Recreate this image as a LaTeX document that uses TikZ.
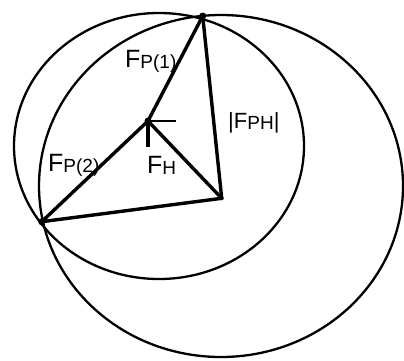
\documentclass[tikz,border=0pt]{standalone}
\usepackage{fontspec}
\setmainfont{Liberation Sans}
\begin{document}
\begin{tikzpicture}[x=1pt,y=-1pt,
  ring/.style={line width=2.3pt},
  bar/.style={line width=3.4pt,line join=round,line cap=round},
  tickmark/.style={line width=2.5pt},
  dot/.style={circle,fill=black,inner sep=0pt,minimum size=7pt},
  lbl/.style={anchor=base west,inner sep=0pt}]
\useasboundingbox (0,0) rectangle (404,360);
% circles
\draw[ring] (159,146) ellipse [x radius=145, y radius=133];
\draw[ring] (221,186) ellipse [x radius=182, y radius=171];
% points
\node[dot] (T) at (202.7,16) {};
\node[dot] (L) at (41.7,221.7) {};
\node[dot] (M) at (148,121) {};
\node[dot,minimum size=4pt] (R) at (221.7,198.3) {};
% labels
\node[lbl] (l1) at (125,67) {\fontsize{25}{25}\selectfont F\raisebox{-1pt}{\fontsize{19}{19}\selectfont P(1)}};
\node[lbl] (l2) at (228,128) {\fontsize{22}{22}\selectfont |F\raisebox{-1pt}{\fontsize{19}{19}\selectfont PH}|};
\node[lbl] (l3) at (48,171) {\fontsize{25}{25}\selectfont F\raisebox{-1pt}{\fontsize{19}{19}\selectfont P(2)}};
\node[lbl] (l4) at (147,173) {\fontsize{25}{25}\selectfont F\raisebox{-1pt}{\fontsize{19}{19}\selectfont H}};
% segments
\draw[bar] (T.center) -- (M.center);
\draw[bar] (M.center) -- (L.center);
\draw[bar] (L.center) -- (R.center);
\draw[bar] (R.center) -- (T.center);
\draw[bar] (M.center) -- (R.center);
% right-angle mark
\coordinate (h) at (176,121);
\coordinate (v) at (148,147);
\draw[tickmark] (M.center) -- (h);
\draw[line width=3.2pt] (M.center) -- (v);
\end{tikzpicture}
\end{document}
